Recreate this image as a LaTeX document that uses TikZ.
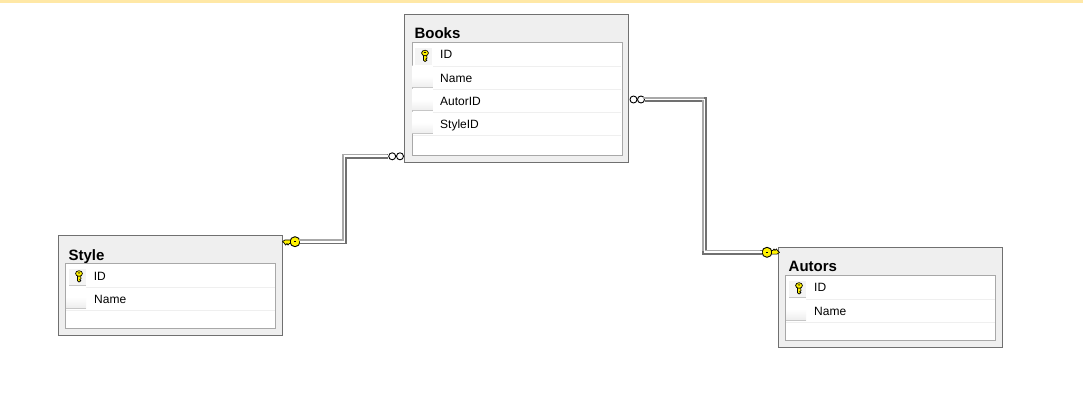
\documentclass[tikz,border=0pt]{standalone}
\usepackage{xcolor}
\usepackage{fontspec}
\setmainfont{Liberation Sans}
\usetikzlibrary{positioning}

\definecolor{bandyellow}{HTML}{FFE8A6}
\definecolor{boxedge}{HTML}{707070}
\definecolor{boxfill}{HTML}{EFEFEF}
\definecolor{gridedge}{HTML}{A8A8A8}
\definecolor{rowedge}{HTML}{EFEFEF}
\definecolor{keyyellow}{HTML}{FFF200}
\definecolor{reledge}{HTML}{707070}
\definecolor{relpale}{HTML}{A8A8A8}

\tikzset{
  tablebox/.style={draw=boxedge, fill=boxfill, line width=1pt, anchor=north west, inner sep=0pt, outer sep=0pt},
  gridbox/.style={draw=gridedge, fill=white, line width=1pt, anchor=north west, inner sep=0pt, outer sep=0pt},
  rowbox/.style={anchor=north west, inner sep=0pt, outer sep=0pt, minimum height=23pt,
    append after command={(\tikzlastnode.south west) edge[draw=rowedge, line width=1pt] (\tikzlastnode.south east)}},
  gutterbtn/.style={anchor=north west, inner sep=0pt, outer sep=0pt, minimum width=20pt, minimum height=22pt,
    top color=white, bottom color=gray!14, middle color=white,
    append after command={(\tikzlastnode.south west) edge[draw=gray!45, line width=.8pt] (\tikzlastnode.south east)}},
  keybtn/.style={anchor=north west, inner sep=0pt, outer sep=0pt, minimum width=17pt, minimum height=17pt, fill=gray!9,
    append after command={(\tikzlastnode.south west) edge[draw=gray!45, line width=.8pt] (\tikzlastnode.south east)}},
  titletext/.style={anchor=base west, inner sep=0pt, font=\bfseries\fontsize{15}{17}\selectfont},
  rowtext/.style={anchor=base west, inner sep=0pt, font=\fontsize{12}{14}\selectfont},
  relcircle/.style={draw=black, fill=white, circle, line width=.9pt, inner sep=0pt, minimum size=7pt},
  relkey/.style={draw=black, fill=keyyellow, circle, line width=.9pt, inner sep=0pt, minimum size=10pt},
  reldark/.style={draw=reledge, line width=4.8pt},
  rellight/.style={draw=relpale, line width=1.5pt, transform canvas={xshift=-1.7pt, yshift=1.7pt}},
  relwhite/.style={draw=white, line width=1.8pt},
  pics/keyblade/.style={code={
      \draw[fill=keyyellow, line width=.7pt, line join=round] (-4.5,-1.8) -- (-10,-1.8) -- (-12.5,0) -- (-10.5,1.6) -- (-9.5,3.4) -- (-8,1.8) -- (-7,3.4) -- (-5.8,1.8) -- (-4.5,1.8) -- cycle;
      \fill[black] (-1.4,-.5) rectangle (1.4,.5);
  }},
  pics/rowkey/.style={code={
      \draw[fill=keyyellow, line width=.7pt, line join=round] (-1.6,0) -- (-1.6,5.2) -- (0,6.5) -- (2,5.2) -- (.6,4.2) -- (2,3.2) -- (1.6,0) -- cycle;
      \draw[fill=keyyellow, line width=.7pt] (0,-2) ellipse (3.4 and 2.8);
      \fill[black] (0,-2.6) ellipse (1.3 and .6);
  }},
}

\begin{document}
\begin{tikzpicture}[x=1pt, y=-1pt]
  \useasboundingbox (0,0) rectangle (1083,412);
  \fill[bandyellow] (0,0) rectangle (1083,3);

  % Books
  \node[tablebox, minimum width=224pt, minimum height=148pt] (booksBox) at (404.5,14.5) {};
  \node[titletext] (booksTitle) at (414.3,39) {Books};
  \node[gridbox, minimum width=210pt, minimum height=112.5pt] (booksGrid) at (412,43) {};
  \node[rowbox, minimum width=208.5pt] (booksRowA) at (412.7,43.5) {};
  \node[rowbox, minimum width=208.5pt] (booksRowB) at (412.7,66.5) {};
  \node[rowbox, minimum width=208.5pt] (booksRowC) at (412.7,89.5) {};
  \node[rowbox, minimum width=208.5pt] (booksRowD) at (412.7,112.5) {};
  \node[keybtn] (booksBtnA) at (415,48) {};
  \node[gutterbtn] (booksBtnB) at (412.7,65.5) {};
  \node[gutterbtn] (booksBtnC) at (412.7,88.5) {};
  \node[gutterbtn] (booksBtnD) at (412.7,111.5) {};
  \pic at (425,55) {rowkey};
  \node[rowtext] (booksId) at (440,59) {ID};
  \node[rowtext] (booksName) at (440,82.3) {Name};
  \node[rowtext] (booksAutor) at (440,105.3) {AutorID};
  \node[rowtext] (booksStyle) at (440,128.3) {StyleID};

  % Style
  \node[tablebox, minimum width=224pt, minimum height=100pt] (styleBox) at (58.5,235.5) {};
  \node[titletext] (styleTitle) at (68.3,260) {Style};
  \node[gridbox, minimum width=210pt, minimum height=65pt] (styleGrid) at (65.5,263.5) {};
  \node[rowbox, minimum width=208.5pt] (styleRowA) at (66.2,264) {};
  \node[rowbox, minimum width=208.5pt] (styleRowB) at (66.2,287) {};
  \node[keybtn] (styleBtnA) at (69,268.5) {};
  \node[gutterbtn] (styleBtnB) at (66.2,286) {};
  \pic at (79,275.5) {rowkey};
  \node[rowtext] (styleId) at (93.7,280) {ID};
  \node[rowtext] (styleName) at (94,303.3) {Name};

  % Autors
  \node[tablebox, minimum width=224pt, minimum height=100pt] (autorsBox) at (778.5,247.5) {};
  \node[titletext] (autorsTitle) at (788.5,271.7) {Autors};
  \node[gridbox, minimum width=210pt, minimum height=65pt] (autorsGrid) at (785.5,275.5) {};
  \node[rowbox, minimum width=208.5pt] (autorsRowA) at (786.2,276) {};
  \node[rowbox, minimum width=208.5pt] (autorsRowB) at (786.2,299) {};
  \node[keybtn] (autorsBtnA) at (789,280.5) {};
  \node[gutterbtn] (autorsBtnB) at (786.2,298) {};
  \pic at (799,287.5) {rowkey};
  \node[rowtext] (autorsId) at (814,291.7) {ID};
  \node[rowtext] (autorsName) at (814,315) {Name};

  % Books to Style
  \node[relcircle] (booksLeftA) at (392.2,156.3) {};
  \node[relcircle] (booksLeftB) at (400,156.3) {};
  \node[relkey] (styleKey) at (295,241.7) {};
  \pic at (styleKey.center) {keyblade};
  \coordinate (styleBend) at (344.5,200);
  \draw[reldark] (booksLeftA.west) -| (styleBend) |- (styleKey.east);
  \draw[rellight] (booksLeftA.west) -| (styleBend) |- (styleKey.east);
  \draw[relwhite] (booksLeftA.west) -| (styleBend) |- (styleKey.east);

  % Books to Autors
  \node[relcircle] (booksRightA) at (633.5,99.5) {};
  \node[relcircle] (booksRightB) at (641,99.5) {};
  \node[relkey] (autorsKey) at (767,252.3) {};
  \pic[rotate=180] at (autorsKey.center) {keyblade};
  \coordinate (autorsBend) at (704.5,175);
  \draw[reldark] (booksRightB.east) -| (autorsBend) |- (autorsKey.west);
  \draw[rellight] (booksRightB.east) -| (autorsBend) |- (autorsKey.west);
  \draw[relwhite] (booksRightB.east) -| (autorsBend) |- (autorsKey.west);
\end{tikzpicture}
\end{document}
